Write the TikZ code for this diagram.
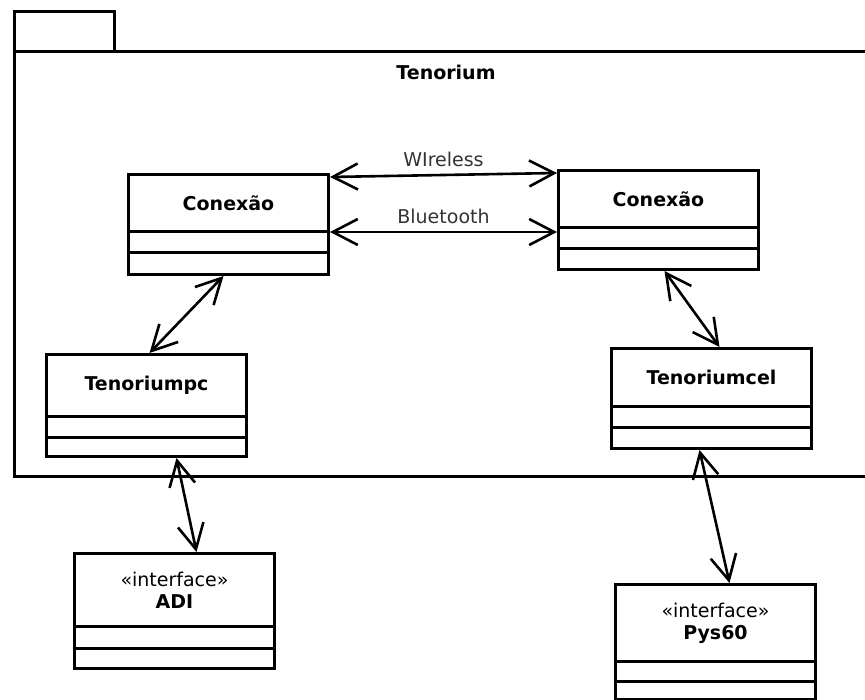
\documentclass[tikz,border=0pt]{standalone}
\usepackage{fontspec}
\setmainfont{DejaVu Sans}
\usetikzlibrary{arrows.meta}

\begin{document}
\begin{tikzpicture}[
    x=1pt, y=-1pt,
    pkgbox/.style={draw, line width=3pt, anchor=north west, inner sep=0pt},
    clsname/.style={draw, line width=3pt, anchor=north west, minimum width=200pt, inner sep=0pt, align=center, font=\fontsize{19}{22}\selectfont},
    clscomp/.style={draw, line width=3pt, anchor=north west, minimum width=200pt, inner sep=0pt},
    lbl/.style={font=\fontsize{19}{22}\selectfont, text=black!80},
    arr/.style={<->, line width=2.6pt, >={Straight Barb[length=25pt,width=26pt]}}
]
    \clip (0,0) rectangle (865,700);

    % package Tenorium
    \node[pkgbox, minimum width=100pt, minimum height=40pt] (tab) at (13,10)  {};
    \node[pkgbox, minimum width=867pt, minimum height=425pt] (pkg) at (13,50) {};
    \node[font=\fontsize{19}{22}\selectfont\bfseries] (title) at (446,72) {Tenorium};

    % classes
    \node[clsname, minimum height=57pt] (conL)  at (127,173) {\textbf{Conexão}};
    \node[clscomp, minimum height=21pt] (conL2) at (127,230) {};
    \node[clscomp, minimum height=22pt] (conL3) at (127,251) {};

    \node[clsname, minimum height=57pt] (conR)  at (557,169) {\textbf{Conexão}};
    \node[clscomp, minimum height=21pt] (conR2) at (557,226) {};
    \node[clscomp, minimum height=21pt] (conR3) at (557,247) {};

    \node[clsname, minimum height=62pt] (tpc)   at (45,353)  {\textbf{Tenoriumpc}};
    \node[clscomp, minimum height=21pt] (tpc2)  at (45,415)  {};
    \node[clscomp, minimum height=19pt] (tpc3)  at (45,436)  {};

    \node[clsname, minimum height=58pt] (tcel)  at (610,347) {\textbf{Tenoriumcel}};
    \node[clscomp, minimum height=21pt] (tcel2) at (610,405) {};
    \node[clscomp, minimum height=21pt] (tcel3) at (610,426) {};

    \node[clsname, minimum height=73pt] (adi)   at (73,552)  {«interface»\\\textbf{ADI}};
    \node[clscomp, minimum height=22pt] (adi2)  at (73,625)  {};
    \node[clscomp, minimum height=20pt] (adi3)  at (73,647)  {};

    \node[clsname, minimum height=77pt] (pys)   at (614,583) {«interface»\\\textbf{Pys60}};
    \node[clscomp, minimum height=20pt] (pys2)  at (614,660) {};
    \node[clscomp, minimum height=18pt] (pys3)  at (614,680) {};

    % associations
    \draw[arr] ([yshift=-4pt]conL.north east) -- node[lbl, above=4pt] (wifi) {WIreless} ([yshift=-4pt]conR.north west);
    \draw[arr] ([yshift=1pt]conL.south east)  -- node[lbl, above=4pt] (bt) {Bluetooth} ([yshift=-3pt]conR.south west);

    \draw[arr] ([xshift=-5pt]conL3.south)  -- ([xshift=3pt]tpc.north);
    \draw[arr] ([xshift=6pt]conR3.south)   -- ([xshift=8pt]tcel.north);
    \draw[arr] ([xshift=30pt]tpc3.south)   -- ([xshift=22pt]adi.north);
    \draw[arr] ([xshift=-12pt]tcel3.south) -- ([xshift=14pt]pys.north);
\end{tikzpicture}
\end{document}
